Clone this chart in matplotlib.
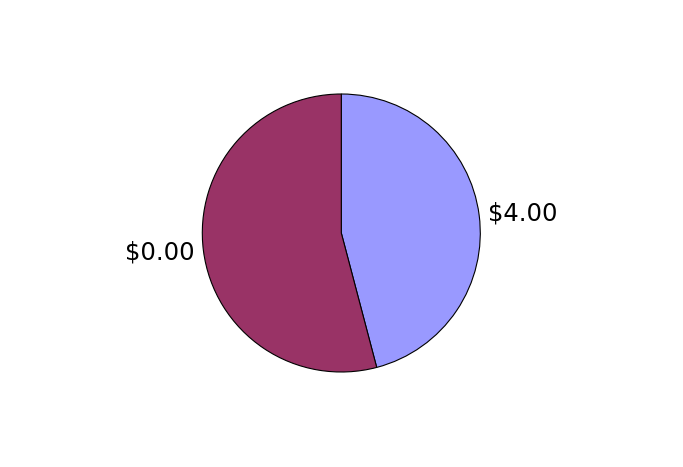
import matplotlib
matplotlib.use("Agg")
import matplotlib.pyplot as plt

labels = ["$4.00", "$0.00"]
shares = [45.9, 54.1]
colors = ["#9999FF", "#993366"]

fig = plt.figure(figsize=(6.83, 4.67), dpi=100)
fig.patch.set_facecolor("white")
ax = fig.add_axes([202.3 / 683, 95 / 467, 278 / 683, 278 / 467])
wedges, texts = ax.pie(
    shares,
    labels=labels,
    colors=colors,
    startangle=90,
    counterclock=False,
    labeldistance=1.065,
    wedgeprops=dict(edgecolor="black", linewidth=0.8),
    textprops=dict(fontsize=17.5, color="black", family="DejaVu Sans"),
)
ax.set_xlim(-1, 1)
ax.set_ylim(-1, 1)
ax.set_aspect("equal")
ax.axis("off")
fig.savefig("out.png", dpi=100, facecolor="white")
